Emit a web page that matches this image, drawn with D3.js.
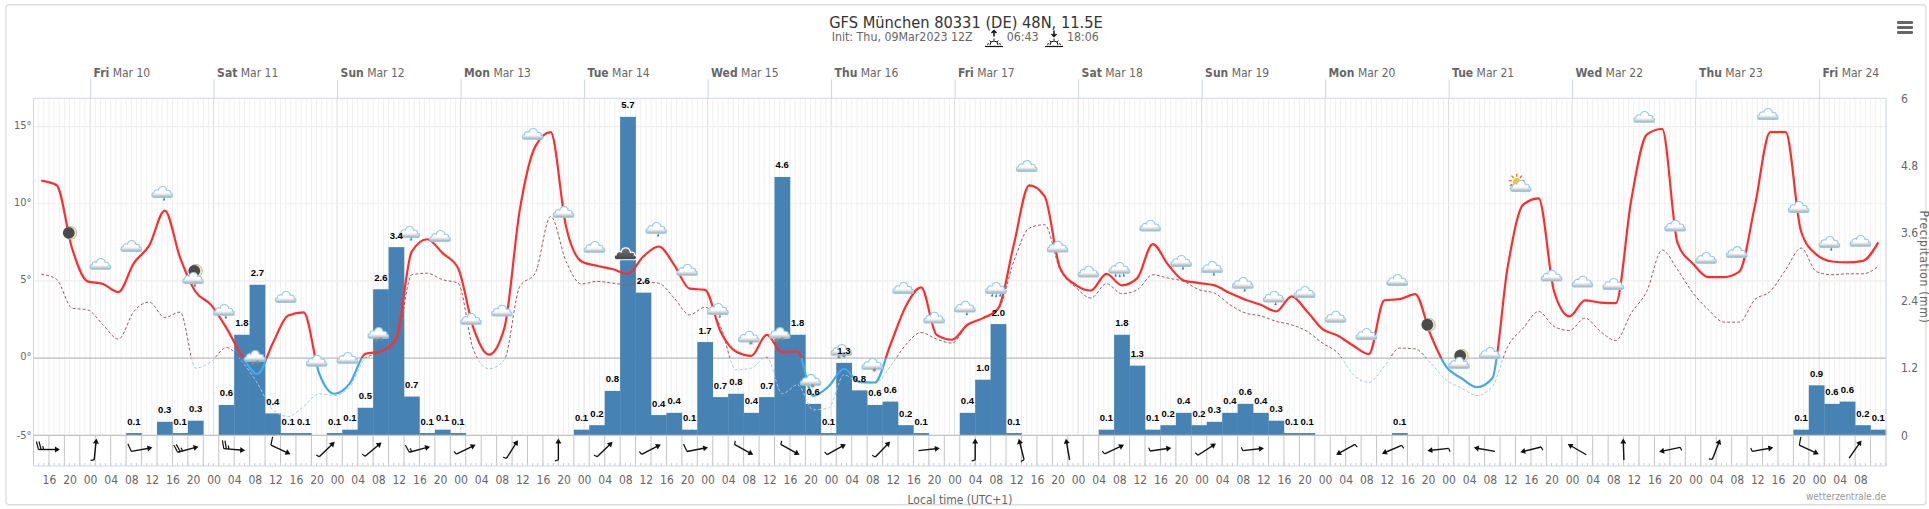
<!DOCTYPE html>
<html>
<head>
<meta charset="utf-8">
<script src="https://cdn.jsdelivr.net/npm/d3@7"></script>
<style>
  body { margin: 0; background: #fff; }
  svg { display: block; }
  text { font-family: "DejaVu Sans Condensed", "DejaVu Sans", sans-serif; font-stretch: condensed; }
  .axis path { display: none; }
  .axis text { fill: #666; }
</style>
</head>
<body>
<svg width="1929" height="509"></svg>
<script>
// values, 3 hourly from Thu 9 Mar 13:00
const temperature = [
  11.5, 11.2, 7.1, 4.97, 4.8, 4.28, 6.15, 7.3, 9.56, 6.5, 4.3, 3.45, 1.94, .15, -1.04, .97, 2.76, 2.96, -.97, -2.31,
  -1.62, .28, .43, 1.3, 6.9, 7.7, 6.8, 5.83, 1.94, .22, 1.94, 9.6, 13.7, 14.64, 8.5, 6.26, 5.98, 5.77, 5.46, 6.58,
  7.23, 6.04, 4.5, 4.42, 1.73, .43, .15, 1.51, .37, .43, -2.44, -1.84, -.69, -1.55, -1.58, .85, 3.35, 4.58, 1.51, 1.19,
  2.16, 2.59, 3.24, 7.34, 11.19, 10.48, 5.83, 4.75, 4.38, 5.46, 4.71, 5.18, 7.39, 6.05, 5.03, 4.86, 4.71, 4.21, 3.78, 3.46,
  3.02, 4.0, 3.02, 1.88, 1.45, .8, .26, 3.74, 3.82, 4.15, 1.51, -.54, -1.3, -1.88, -1.3, 5.94, 9.94, 10.35, 4.32, 2.7,
  3.74, 3.6, 3.56, 10.26, 14.47, 14.84, 7.45, 6.11, 5.25, 5.25, 5.6, 9.83, 14.64, 14.64, 8.2, 6.7, 6.26, 6.2, 6.3, 7.5
];
const dewpoint = [
  5.44, 5.1, 3.24, 3.13, 2.16, 1.23, 3.02, 3.63, 2.63, 2.98, -.65, -.22, .69, -.22, -1.62, -3.35, -3.78, -3.13, -2.31, -2.42,
  -1.84, 0, .37, 1.0, 5.4, 5.5, 5.08, 4.86, .54, -.69, -.11, 4.64, 5.5, 9.18, 6.26, 4.8, 4.97, 4.86, 4.75, 4.92,
  4.85, 3.89, 2.8, 3.3, 2.05, -.76, -.65, .06, -2.31, -1.73, -3.35, -3.24, -1.08, -1.58, -1.62, -.54, .86, 1.66, 1.23, .97,
  2.16, 2.55, 3.13, 6.26, 8.42, 8.64, 5.72, 4.6, 3.89, 4.82, 4.17, 4.43, 5.4, 5.18, 4.97, 4.43, 4.21, 3.46, 2.92, 2.74,
  2.38, 2.16, 1.73, .97, .32, -1.08, -1.58, -.54, .65, .6, -.32, -1.4, -1.94, -2.42, -1.84, .76, 1.94, 3.02, 2.05, 1.79,
  2.59, 1.73, 1.14, 2.92, 4.32, 7.0, 5.72, 4.21, 3.13, 2.33, 2.33, 3.78, 4.32, 5.72, 7.13, 5.6, 5.4, 5.46, 5.46, 5.94
];
const precip = [
  0, 0, 0, 0, 0, 0, .04, 0, .24, .04, .26, 0, .54, 1.79, 2.68, .39, .04, .04, 0, .04,
  .1, .49, 2.6, 3.35, .69, .04, .1, .04, 0, 0, 0, 0, 0, 0, 0, .1, .18, .79, 5.67, 2.54,
  .36, .4, .1, 1.66, .68, .74, .4, .68, 4.6, 1.79, .56, .04, 1.29, .8, .54, .6, .18, .04, 0, 0,
  .4, .99, 1.98, .04, 0, 0, 0, 0, 0, .1, 1.79, 1.24, .1, .18, .4, .18, .24, .4, .56, .4,
  .26, .04, .04, 0, 0, 0, 0, 0, .04, 0, 0, 0, 0, 0, 0, 0, 0, 0, 0, 0,
  0, 0, 0, 0, 0, 0, 0, 0, 0, 0, 0, 0, 0, 0, .1, .89, .56, .6, .18, .1
];
// one symbol every 6 hours, starting with the third temperature point
const iconTypes = [
  "m", "c", "c", "r", "mr", "r", "S", "c", "c", "c", "S", "r", "c", "c", "c", "c", "c", "c", "T", "r",
  "c", "r", "s", "S", "s", "S", "s", "c", "c", "r", "R", "c", "c", "c", "R", "c", "r", "r", "r", "r",
  "c", "c", "c", "c", "m", "mc", "c", "sc", "c", "c", "c", "c", "c", "c", "c", "c", "c", "r", "c"
];
const iconTemps = [
  8.11, 6.11, 7.27, 10.77, 5.2, 3.13, .15, 3.97, -.16, .02, 1.64, 8.18, 7.92, 2.55, 3.08, 14.53, 9.48, 7.21, 6.63, 8.44,
  5.72, 3.19, 1.4, 1.64, -1.4, .54, -.37, 4.55, 2.63, 3.34, 4.55, 12.45, 7.23, 5.61, 5.85, 8.59, 6.3, 5.91, 4.88, 3.99,
  4.29, 2.69, 1.57, 5.07, 2.16, -.3, .34, 11.16, 5.35, 4.96, 4.81, 15.63, 8.59, 6.5, 6.88, 15.82, 9.8, 7.53, 7.6
];
// wind every 9 hours: direction the arrow points to, knots (null = no barb drawn)
const windDir = [
  90, 6, 80, 75, 95, 115, 46, 50, 75, 64, 32, 0, 46, 63, 79, 119, 119, 61, 44, 84,
  0, 346, 350, 65, 82, 57, 84, 0, 241, 247, 264, 280, 256, 300, 358, 258, 21, 80, 115, 35
];
const windSpeed = [
  25, 5, 10, 25, 25, 10, 5, 5, 15, 5, 5, 5, 5, 5, 10, 5, 5, 5, 5, 0,
  5, 5, 0, 5, 5, 5, 5, null, 5, 5, 5, 0, 5, 0, 0, 5, 5, 5, 10, 0
];
const tempTicks = [-5, 0, 5, 10, 15];
const precipTicks = [0, 1.2, 2.4, 3.6, 4.8, 6];

const svg = d3.select("svg");

let margin = { left: 33.5, right: 1886, top: 98.3, bottom: 435.3, wind: 466 };

const start = Date.UTC(2023, 2, 9, 13), end = Date.UTC(2023, 2, 24, 13);
function hour(h) { return new Date(start + h * 3600000); }

const x = d3.scaleUtc().domain([start, end]).range([margin.left, margin.right]);
const yTemp = d3.scaleLinear().domain([-5, 16.83]).range([margin.bottom, margin.top]);
const yPrecip = d3.scaleLinear().domain([0, 6]).range([margin.bottom, margin.top]);

// card outline
svg.append("rect").attr("x", 6).attr("y", 4.7).attr("width", 1920).attr("height", 500).attr("rx", 3)
    .attr("fill", "#fff").attr("stroke", "#ddd").attr("stroke-width", 1.4);

// ****************** grid ***************************
const hours = d3.utcHour.range(new Date(start), new Date(end + 1));
svg.append("g").selectAll("line").data(hours).join("line")
    .attr("x1", d => x(d)).attr("x2", d => x(d))
    .attr("y1", margin.top).attr("y2", margin.bottom)
    .attr("stroke", d => d.getUTCHours() === 0 ? "#dcdcdc" : "#f0f0f0").attr("stroke-width", 1);

svg.append("g").selectAll("line").data(tempTicks).join("line")
    .attr("x1", margin.left).attr("x2", margin.right)
    .attr("y1", d => yTemp(d)).attr("y2", d => yTemp(d))
    .attr("stroke", d => d === 0 ? "#bbb" : "#eee")
    .attr("stroke-width", d => d === 0 ? 1.3 : 1.2);

// ****************** precipitation ***************************
svg.append("g").selectAll("rect").data(precip).join("rect")
    .attr("x", (d, i) => x(hour(i * 3)))
    .attr("width", (d, i) => x(hour(i * 3 + 3)) - x(hour(i * 3)) + 0.3)
    .attr("y", d => yPrecip(d))
    .attr("height", d => yPrecip(0) - yPrecip(d))
    .attr("fill", "#4682b4");

// ****************** temperature lines ***************************
const defs = svg.append("defs");
defs.append("clipPath").attr("id", "above").append("rect")
    .attr("x", margin.left).attr("width", margin.right - margin.left)
    .attr("y", margin.top).attr("height", yTemp(0) - margin.top);
defs.append("clipPath").attr("id", "below").append("rect")
    .attr("x", margin.left).attr("width", margin.right - margin.left)
    .attr("y", yTemp(0)).attr("height", margin.bottom - yTemp(0));

const line = d3.line()
    .x((d, i) => x(hour(1.5 + i * 3)))
    .y(d => yTemp(d))
    .curve(d3.curveMonotoneX);

function zoned(values, above, below, width, dash) {
    [["above", above], ["below", below]].forEach(function (z) {
        svg.append("path")
            .attr("d", line(values))
            .attr("clip-path", `url(#${z[0]})`)
            .attr("fill", "none")
            .attr("stroke", z[1])
            .attr("stroke-width", width)
            .attr("stroke-dasharray", dash);
    });
}
zoned(dewpoint, "#9c5a60", "#a9c8e6", 1, "3,2");
zoned(temperature, "#ff2d2d", "#3fa9ea", 2.2, null);

// ****************** wind panel ***************************
svg.append("g").selectAll("line").data(d3.range(0, 361, 3)).join("line")
    .attr("x1", d => x(hour(d))).attr("x2", d => x(hour(d)))
    .attr("y1", margin.bottom).attr("y2", margin.wind)
    .attr("stroke", "#c4c4c4");
svg.append("line").attr("x1", margin.left).attr("x2", margin.right)
    .attr("y1", margin.bottom).attr("y2", margin.bottom).attr("stroke", "#c4c4c4").attr("stroke-width", 1.3);
svg.append("g").selectAll("line").data(hours).join("line")
    .attr("x1", d => x(d)).attr("x2", d => x(d))
    .attr("y1", margin.wind - 3).attr("y2", margin.wind)
    .attr("stroke", "#ccc");
svg.append("line").attr("x1", margin.left).attr("x2", margin.right)
    .attr("y1", margin.wind).attr("y2", margin.wind).attr("stroke", "#ccd6eb");

const barbs = svg.append("g").selectAll("g").data(windDir).join("g")
    .attr("transform", (d, i) => `translate(${x(hour(3 + i * 9))},449.5) rotate(${d})`)
    .style("display", (d, i) => windSpeed[i] === null ? "none" : null);
barbs.append("line").attr("y1", 10.5).attr("y2", -9)
    .attr("stroke", "#111").attr("stroke-width", 1.4);
barbs.append("path").attr("d", "M0,-11L3,-6L-3,-6Z").attr("fill", "#111");
barbs.each(function (d, i) {
    let s = windSpeed[i] || 0, pos = 10.5;
    const g = d3.select(this);
    function feather(len) {
        g.append("line").attr("x1", 0).attr("y1", pos).attr("x2", -len).attr("y2", pos + len * 0.25)
            .attr("stroke", "#111").attr("stroke-width", 1.2);
        pos -= 2.6;
    }
    while (s >= 10) { feather(8); s -= 10; }
    if (s >= 5) feather(3.5);
});

// ****************** weather symbols ***************************
const grad = defs.append("linearGradient").attr("id", "cloudFill").attr("x1", 0).attr("x2", 0).attr("y1", 0).attr("y2", 1);
grad.append("stop").attr("offset", "60%").attr("stop-color", "#fff");
grad.append("stop").attr("offset", "100%").attr("stop-color", "#a9a9a9");
const darkGrad = defs.append("linearGradient").attr("id", "cloudDark").attr("x1", 0).attr("x2", 0).attr("y1", 0).attr("y2", 1);
darkGrad.append("stop").attr("offset", "0%").attr("stop-color", "#777");
darkGrad.append("stop").attr("offset", "100%").attr("stop-color", "#444");

const cloudPath = "M-7.5,5 C-10,5 -10,1 -7.5,0.8 C-8,-1.5 -4.5,-2.5 -3.5,-1.5 C-2.5,-6 3.5,-6 4.2,-1.2 C6.5,-2 8.5,0 7.5,1 C10,1.5 10,5 7.5,5 Z";

function drawMoon(g, dx, dy) {
    g.append("circle").attr("cx", dx + 0.8).attr("cy", dy).attr("r", 6.5).attr("fill", "#efe7b8").attr("stroke", "#888").attr("stroke-width", .5);
    g.append("circle").attr("cx", dx - 0.8).attr("cy", dy).attr("r", 5.9).attr("fill", "#4b4b4b");
}
function drawSun(g, dx, dy) {
    d3.range(0, 360, 40).forEach(function (a) {
        g.append("line").attr("x1", dx).attr("y1", dy - 5).attr("x2", dx).attr("y2", dy - 8)
            .attr("transform", `rotate(${a} ${dx} ${dy})`)
            .attr("stroke", "#f26a1a").attr("stroke-width", 1.3);
    });
    g.append("circle").attr("cx", dx).attr("cy", dy).attr("r", 3.8).attr("fill", "#ffc21a");
}
function drawCloud(g, dark) {
    g.append("path").attr("d", cloudPath)
        .attr("transform", dark ? "translate(0,-2) scale(1.2)" : "scale(1.1)")
        .attr("fill", dark ? "url(#cloudDark)" : "url(#cloudFill)")
        .attr("stroke", dark ? "#fff" : "#8fcbee").attr("stroke-width", 1);
}
function drawDrops(g, positions, color) {
    positions.forEach(function (p) {
        g.append("path").attr("d", `M${p[0]},${p[1]}l-1,2.4l1.6,0Z`).attr("fill", color)
            .attr("stroke", color).attr("stroke-width", .5);
    });
}
function drawFlakes(g, positions) {
    positions.forEach(function (p) {
        g.append("text").attr("x", p[0]).attr("y", p[1]).attr("text-anchor", "middle")
            .attr("font-size", 9).attr("font-weight", "bold").attr("fill", "#8a8a8a").text("*");
    });
}
const icons = svg.append("g").selectAll("g").data(iconTypes).join("g")
    .attr("transform", (d, i) => `translate(${x(hour(1.5 + (i + 1) * 6)) - 2.5},${yTemp(iconTemps[i])})`);
icons.each(function (type) {
    const g = d3.select(this);
    if (type === "m") { drawMoon(g, 0, 0); return; }
    if (type === "mr" || type === "mc") drawMoon(g, 2, -7);
    if (type === "sc") drawSun(g, -4, -4);
    drawCloud(g, type === "T");
    if (type === "r" || type === "mr") drawDrops(g, [[2, 6]], "#1b78c4");
    if (type === "R") drawDrops(g, [[-3.5, 6], [0.5, 6.5], [4.5, 6]], "#1b78c4");
    if (type === "s") drawFlakes(g, [[2, 11]]);
    if (type === "S") drawFlakes(g, [[-2.5, 12], [2.5, 11]]);
    if (type === "T") drawDrops(g, [[-4.5, 5.5], [-1.5, 7.5], [1.5, 5.5], [4.5, 7.5]], "#3b8fd0");
});

// ****************** bar labels ***************************
const wetBars = d3.range(precip.length).filter(i => precip[i] > 0);
svg.append("g").selectAll("text").data(wetBars).join("text")
    .attr("x", i => x(hour(i * 3 + 1.5)))
    .attr("y", i => yPrecip(precip[i]) - 8.5)
    .attr("text-anchor", "middle")
    .style("font-family", '"Liberation Sans", sans-serif')
    .attr("font-size", 9.5).attr("font-weight", "bold").attr("fill", "#000")
    .text(i => (Math.ceil(precip[i] * 10 - 1e-9) / 10).toFixed(1));

// ****************** axes ***************************
const bottomTicks = d3.utcHour.range(new Date(start), new Date(end), 1)
    .filter(d => d.getUTCHours() % 4 === 0).slice(0, -1);
svg.append("g").attr("class", "axis")
    .attr("transform", `translate(0,${margin.wind})`)
    .call(d3.axisBottom(x).tickValues(bottomTicks).tickSize(0).tickPadding(9).tickFormat(d3.utcFormat("%H")))
    .selectAll("text").attr("font-size", 12);

const topAxis = svg.append("g").attr("class", "axis")
    .attr("transform", `translate(0,${margin.top})`)
    .call(d3.axisTop(x).ticks(d3.utcDay.every(1)).tickSize(19).tickFormat(""));
topAxis.selectAll("line").attr("stroke", "#ccd6eb");
topAxis.selectAll(".tick text").each(function (d) {
    const t = d3.select(this).attr("text-anchor", "start").attr("x", 3).attr("y", -21).attr("font-size", 12);
    t.append("tspan").attr("font-weight", "bold").text(d3.utcFormat("%a")(d));
    t.append("tspan").text(" " + d3.utcFormat("%b %d")(d));
});

const leftAxis = svg.append("g").attr("class", "axis")
    .attr("transform", `translate(${margin.left},0)`)
    .call(d3.axisLeft(yTemp).tickValues(tempTicks).tickSize(0).tickPadding(2).tickFormat(d => d + "°"));
leftAxis.selectAll("text").attr("font-size", 11).attr("dy", d => d === -5 ? "0.32em" : "0.15em");

const rightAxis = svg.append("g").attr("class", "axis")
    .attr("transform", `translate(${margin.right},0)`)
    .call(d3.axisRight(yPrecip).tickValues(precipTicks).tickSize(0).tickPadding(15).tickFormat(d => d));
rightAxis.selectAll("text").attr("font-size", 12);

svg.append("line").attr("x1", margin.left).attr("x2", margin.right).attr("y1", margin.top).attr("y2", margin.top).attr("stroke", "#ccd6eb");
svg.append("line").attr("x1", margin.left).attr("x2", margin.left).attr("y1", margin.top).attr("y2", margin.bottom).attr("stroke", "#ccd6eb");
svg.append("line").attr("x1", margin.right).attr("x2", margin.right).attr("y1", margin.top).attr("y2", margin.bottom).attr("stroke", "#ccd6eb");

svg.append("text").attr("transform", "translate(1919.5,267) rotate(90)")
    .attr("text-anchor", "middle").attr("font-size", 12).attr("letter-spacing", .7).attr("fill", "#666").text("Precipitation (mm)");

// ****************** titles ***************************
svg.append("text").attr("x", 966).attr("y", 28).attr("text-anchor", "middle")
    .attr("font-size", 16.3).attr("fill", "#333").text("GFS München 80331 (DE) 48N, 11.5E");
svg.append("text").attr("x", 831.7).attr("y", 41).attr("font-size", 12.3).attr("fill", "#666").text("Init: Thu, 09Mar2023 12Z");
svg.append("text").attr("x", 1006.7).attr("y", 41).attr("font-size", 12.3).attr("fill", "#666").text("06:43");
svg.append("text").attr("x", 1067).attr("y", 41).attr("font-size", 12.3).attr("fill", "#666").text("18:06");

// sunrise and sunset glyphs
[[994, "M0,-16L0,-10M-2.5,-13.5L0,-16L2.5,-13.5"], [1054, "M0,-16L0,-10M-2.5,-12.5L0,-10L2.5,-12.5"]].forEach(function (s) {
    const g = svg.append("g").attr("transform", `translate(${s[0]},46.5)`)
        .attr("stroke", "#111").attr("fill", "none");
    g.append("path").attr("d", s[1]).attr("stroke-width", 1.5);
    g.append("path").attr("d", "M-9,0H9").attr("stroke-width", 1.2);
    g.append("path").attr("d", "M-4,-1.5A4,4 0 0 1 4,-1.5");
    g.append("path").attr("d", "M-7,-2L-5,-3M7,-2L5,-3M-4.5,-6L-3,-4.5M4.5,-6L3,-4.5M0,-8V-6");
});

// export menu
[21, 26, 31].forEach(function (yy) {
    svg.append("rect").attr("x", 1897).attr("y", yy).attr("width", 16).attr("height", 3).attr("rx", 1).attr("fill", "#666");
});

svg.append("text").attr("x", 960).attr("y", 504).attr("text-anchor", "middle")
    .attr("font-size", 12).attr("fill", "#666").text("Local time (UTC+1)");
svg.append("text").attr("x", 1886).attr("y", 500).attr("text-anchor", "end")
    .attr("font-size", 10).attr("fill", "#999").text("wetterzentrale.de");
</script>
</body>
</html>
